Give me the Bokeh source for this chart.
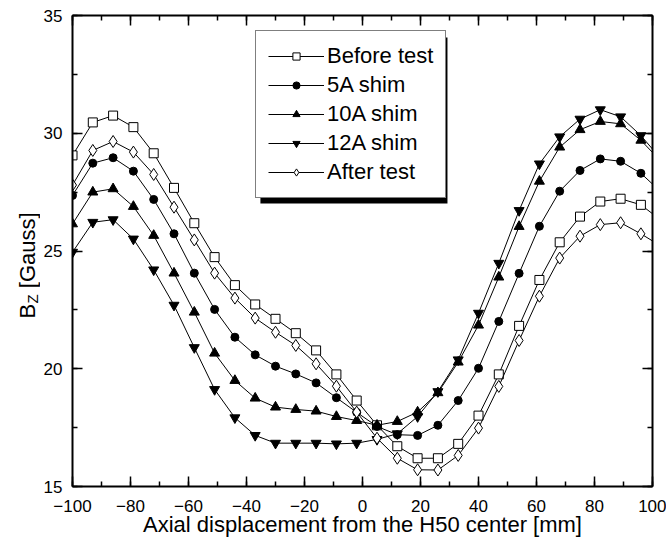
import math
from bokeh.plotting import figure
from bokeh.layouts import row
from bokeh.models import (LinearAxis, SingleIntervalTicker, Legend, LegendItem,
                          BoxAnnotation, Label, Range1d)
from bokeh.embed import file_html
from bokeh.resources import INLINE

x_mm = [-100, -93, -86, -79, -72, -65, -58, -51, -44, -37, -30, -23, -16, -9, -2,
        5, 12, 19, 26, 33, 40, 47, 54, 61, 68, 75, 82, 89, 96, 103]

before_test = [29.06, 30.46, 30.75, 30.26, 29.15, 27.68, 26.18, 24.74, 23.55, 22.73,
               22.12, 21.51, 20.78, 19.76, 18.65, 17.6, 16.71, 16.2, 16.2, 16.81,
               18.01, 19.76, 21.82, 23.77, 25.37, 26.46, 27.1, 27.22, 26.96, 26.3]
shim_5a = [27.36, 28.73, 28.96, 28.39, 27.19, 25.73, 24.06, 22.52, 21.34, 20.59,
           20.11, 19.78, 19.4, 18.77, 18.15, 17.55, 17.2, 17.17, 17.6, 18.65,
           20.02, 22.01, 24.05, 26.05, 27.54, 28.42, 28.91, 28.81, 28.3, 27.5]
shim_10a = [26.15, 27.5, 27.64, 26.89, 25.66, 24.06, 22.4, 20.66, 19.5, 18.75,
            18.37, 18.27, 18.2, 17.97, 17.8, 17.6, 17.76, 18.16, 18.98, 20.28,
            21.85, 23.89, 26.04, 27.96, 29.41, 30.15, 30.5, 30.4, 29.7, 28.8]
shim_12a = [24.95, 26.22, 26.33, 25.51, 24.2, 22.7, 20.9, 19.12, 17.92, 17.17,
            16.84, 16.84, 16.84, 16.81, 16.84, 17.0, 17.24, 17.97, 19.03, 20.38,
            22.36, 24.48, 26.72, 28.7, 29.85, 30.6, 31.0, 30.7, 29.9, 28.9]
after_test = [27.8, 29.27, 29.65, 29.2, 28.25, 26.86, 25.47, 24.06, 23.0, 22.15,
              21.55, 20.99, 20.21, 19.26, 18.16, 17.05, 16.2, 15.71, 15.7, 16.32,
              17.48, 19.25, 21.2, 23.08, 24.7, 25.63, 26.12, 26.2, 25.73, 25.2]

series_names = ["Before test", "5A shim", "10A shim", "12A shim", "After test"]
series_values = [before_test, shim_5a, shim_10a, shim_12a, after_test]
markers = ["square", "circle", "triangle", "inverted_triangle", "diamond"]
fills = ["white", "black", "black", "black", "white"]
sizes = [9, 8, 10, 10, 12]

x_ticks = [-100, -80, -60, -40, -20, 0, 20, 40, 60, 80, 100]
y_ticks = [15, 20, 25, 30, 35]

FONT = "Liberation Sans"
TITLE_W = 40          # width of the strip holding the y-axis title
TOP, BOTTOM = 15, 54  # borders above / below the frame
H = 540

# ---------------- main chart ----------------
p = figure(width=666 - TITLE_W, height=H, output_backend="svg", toolbar_location=None,
           x_range=Range1d(-100, 100), y_range=Range1d(15, 35),
           min_border_left=72 - TITLE_W, min_border_right=14, min_border_top=TOP,
           min_border_bottom=BOTTOM, x_axis_location=None, y_axis_location=None)
p.background_fill_color = "white"
p.border_fill_color = "white"
p.outline_line_color = None
p.xgrid.visible = False
p.ygrid.visible = False


def style_axis(ax):
    ax.axis_line_color = "black"
    ax.axis_line_width = 2
    ax.major_tick_line_color = "black"
    ax.minor_tick_line_color = "black"
    ax.major_tick_line_width = 1.5
    ax.minor_tick_line_width = 1.5
    ax.major_tick_in = 10
    ax.major_tick_out = 0
    ax.minor_tick_in = 5
    ax.minor_tick_out = 0
    ax.major_label_text_font = FONT
    ax.major_label_text_color = "black"
    ax.major_label_text_font_size = "17px"
    ax.axis_label_text_font = FONT
    ax.axis_label_text_font_style = "normal"
    ax.axis_label_text_color = "black"


xb = LinearAxis(ticker=SingleIntervalTicker(interval=20, num_minor_ticks=2),
                axis_label="Axial displacement from the H50 center [mm]")
style_axis(xb)
xb.major_label_standoff = 13
xb.axis_label_text_font_size = "22px"
xb.axis_label_standoff = -3
p.add_layout(xb, "below")

xt = LinearAxis(ticker=SingleIntervalTicker(interval=20, num_minor_ticks=2),
                major_label_overrides={t: "" for t in x_ticks})
style_axis(xt)
xt.major_label_standoff = 0
p.add_layout(xt, "above")

yl = LinearAxis(ticker=SingleIntervalTicker(interval=5, num_minor_ticks=2))
style_axis(yl)
yl.major_label_standoff = 10
p.add_layout(yl, "left")

yr = LinearAxis(ticker=SingleIntervalTicker(interval=5, num_minor_ticks=2),
                major_label_overrides={t: "" for t in y_ticks})
style_axis(yr)
yr.major_label_standoff = 0
p.add_layout(yr, "right")

items = []
for name, vals, mk, fc, sz in zip(series_names, series_values, markers, fills, sizes):
    ln = p.line(x_mm, vals, line_color="black", line_width=1)
    sc = p.scatter(x_mm, vals, marker=mk, size=sz, fill_color=fc,
                   line_color="black", line_width=1)
    items.append(LegendItem(label=name, renderers=[ln, sc]))

# legend shadow (offset ~5px right/down)
shadow = BoxAnnotation(left=-35.2, right=29.3, bottom=27.02, top=34.07,
                       fill_color="black", fill_alpha=1, line_color=None, level="overlay")
p.add_layout(shadow)

legend = Legend(items=items, location=(255 - 72, 486 - 198))
legend.label_text_font = FONT
legend.label_text_font_size = "22px"
legend.label_text_color = "black"
legend.border_line_color = "black"
legend.border_line_width = 1.5
legend.background_fill_color = "white"
legend.background_fill_alpha = 1
legend.padding = 12
legend.spacing = 3
legend.label_height = 26
legend.glyph_height = 18
legend.glyph_width = 56
legend.label_standoff = 3
legend.margin = 0
legend.level = "overlay"
p.add_layout(legend, "center")

# ---------------- strip with the y-axis title (B_Z [Gauss]) ----------------
t = figure(width=TITLE_W, height=H, output_backend="svg", toolbar_location=None,
           x_range=Range1d(0, TITLE_W), y_range=p.y_range,
           min_border_left=0, min_border_right=0, min_border_top=TOP,
           min_border_bottom=BOTTOM, x_axis_location=None, y_axis_location=None)
t.outline_line_color = None
t.background_fill_color = "white"
t.border_fill_color = "white"
t.xgrid.visible = False
t.ygrid.visible = False

common = dict(x_units="data", y_units="data", angle=math.pi / 2,
              text_font=FONT, text_color="black", text_baseline="middle",
              text_align="left")
t.add_layout(Label(x=26.5, y=22.13, text="B", text_font_size="22px", **common))
t.add_layout(Label(x=31.5, y=22.77, text="Z", text_font_size="15px", **common))
t.add_layout(Label(x=26.5, y=23.42, text="[Gauss]", text_font_size="22px", **common))

layout = row(t, p, spacing=0)
open("out.html", "w").write(file_html(layout, INLINE))
